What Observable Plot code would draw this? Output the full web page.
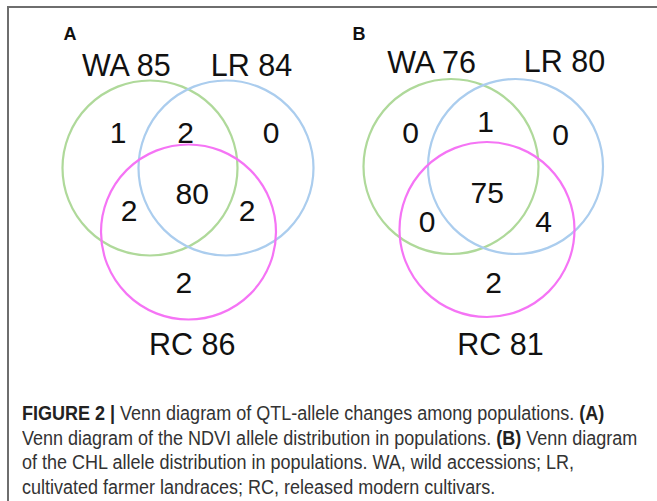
<!DOCTYPE html>
<html>
<head>
<meta charset="utf-8">
<script src="https://cdn.jsdelivr.net/npm/d3@7"></script>
<script src="https://cdn.jsdelivr.net/npm/@observablehq/plot@0.6"></script>
<style>
  html, body { margin: 0; padding: 0; background: #fff; }
  #page { position: relative; width: 657px; height: 501px; overflow: hidden; background: #fff; }
  #frame { position: absolute; left: 7px; top: 6px; width: 700px; height: 600px;
           border-top: 2px solid #6e6e6e; border-left: 2px solid #6e6e6e; box-sizing: border-box; }
  #chart { position: absolute; left: 0; top: 0; }
  #caption { position: absolute; left: 22px; top: 401px; font-family: "Liberation Sans", Arial, sans-serif;
             font-size: 20px; line-height: 24.5px; color: #333; white-space: nowrap;
             transform: scaleX(0.9); transform-origin: 0 0; }
  #caption b { color: #222; }
</style>
</head>
<body>
<div id="page">
  <div id="frame"></div>
  <div id="chart"></div>
  <div id="caption">
    <b>FIGURE 2 |</b> Venn diagram of QTL-allele changes among populations. <b>(A)</b><br>
    Venn diagram of the NDVI allele distribution in populations. <b>(B)</b> Venn diagram<br>
    of the CHL allele distribution in populations. WA, wild accessions; LR,<br>
    cultivated farmer landraces; RC, released modern cultivars.
  </div>
</div>
<script>
// ---- data ----
const panels = ["A", "B"];
const sets = ["WA", "LR", "RC"];
const totalsA = [85, 84, 86];
const totalsB = [76, 80, 81];
const regions = ["WA", "LR", "RC", "WA&LR", "WA&RC", "LR&RC", "WA&LR&RC"];
const countsA = [1, 0, 2, 2, 2, 2, 80];
const countsB = [0, 0, 2, 1, 0, 4, 75];

// ---- layout (pixel space of each panel drawing) ----
const layout = {
  A: {
    circles: {WA: [149.5, 167.5], LR: [225.5, 167.5], RC: [188, 231.5]},
    radius: 87.5,
    labels: {WA: [125.8, 66], LR: [251, 66], RC: [191.7, 345]},
    panelLabel: [63, 34],
    regions: {"WA": [117.5, 132.5], "LR": [270.5, 132.5], "RC": [183.3, 282.5],
              "WA&LR": [185, 132.5], "WA&RC": [128.5, 211], "LR&RC": [246.7, 211], "WA&LR&RC": [191.7, 194]}
  },
  B: {
    circles: {WA: [450.5, 166], LR: [515, 166], RC: [486.5, 229]},
    radius: 87.5,
    labels: {WA: [431, 62.5], LR: [564, 61.5], RC: [500, 345]},
    panelLabel: [352, 34],
    regions: {"WA": [410, 133], "LR": [560, 135], "RC": [493, 282.5],
              "WA&LR": [485, 122], "WA&RC": [426.7, 222], "LR&RC": [543, 222], "WA&LR&RC": [486.7, 192.5]}
  }
};
const setColors = {WA: "#afd99a", LR: "#abcdee", RC: "#f574f5"};

const totals = {A: totalsA, B: totalsB};
const counts = {A: countsA, B: countsB};

const circleData = panels.flatMap(p => sets.map(s => ({panel: p, set: s,
  x: layout[p].circles[s][0], y: layout[p].circles[s][1], r: layout[p].radius})));
const setLabelData = panels.flatMap(p => sets.map((s, i) => ({panel: p, text: `${s} ${totals[p][i]}`,
  x: layout[p].labels[s][0], y: layout[p].labels[s][1]})));
const regionData = panels.flatMap(p => regions.map((g, i) => ({panel: p, text: String(counts[p][i]),
  x: layout[p].regions[g][0], y: layout[p].regions[g][1]})));
const panelLabelData = panels.map(p => ({text: p, x: layout[p].panelLabel[0], y: layout[p].panelLabel[1]}));

const W = 657, H = 380;
const chart = Plot.plot({
  width: W, height: H,
  margin: 0,
  x: {domain: [0, W], range: [0, W], axis: null},
  y: {domain: [0, H], range: [0, H], axis: null},
  r: {type: "identity"},
  style: {fontFamily: "'Liberation Sans', Arial, sans-serif", background: "transparent"},
  marks: [
    Plot.dot(circleData, {x: "x", y: "y", r: "r", stroke: d => setColors[d.set], strokeWidth: 2.2, fill: "none"}),
    Plot.text(setLabelData, {x: "x", y: "y", text: "text", fontSize: 30.5, fill: "#111", textAnchor: "middle", lineAnchor: "middle"}),
    Plot.text(regionData, {x: "x", y: "y", text: "text", fontSize: 30, fill: "#111", textAnchor: "middle", lineAnchor: "middle"}),
    Plot.text(panelLabelData, {x: "x", y: "y", text: "text", fontSize: 18, fontWeight: "bold", fill: "#111", textAnchor: "start", lineAnchor: "middle"})
  ]
});
document.getElementById("chart").appendChild(chart);
</script>
</body>
</html>
